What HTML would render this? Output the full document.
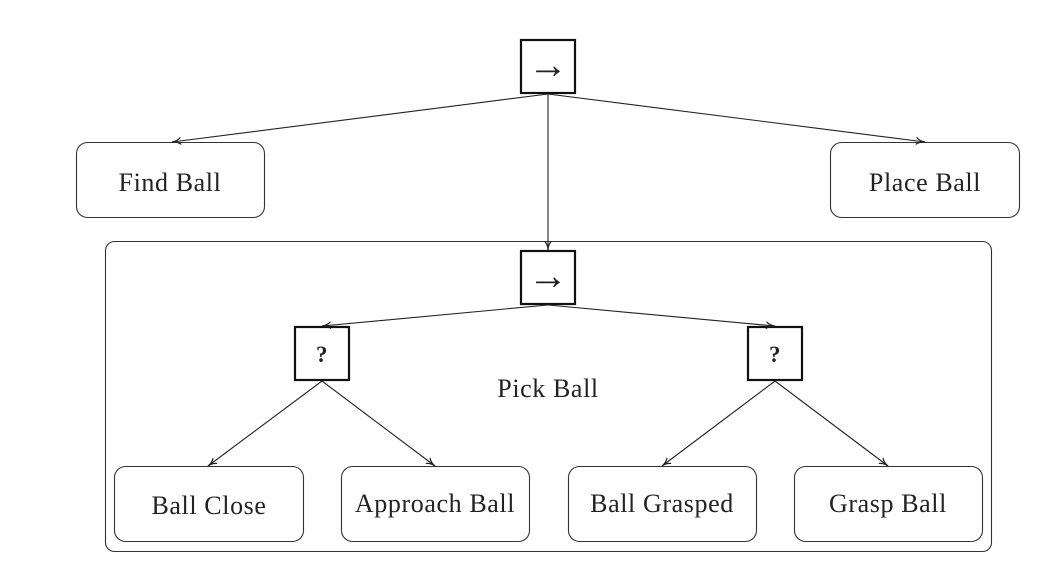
<!DOCTYPE html>
<html><head><style>html,body{margin:0;padding:0;background:#fff;}svg{display:block}</style></head>
<body>
<svg width="1040" height="568" viewBox="0 0 1040 568" xmlns="http://www.w3.org/2000/svg" font-family="'Liberation Serif', serif" fill="none">
<defs>
<marker id="a" markerWidth="10" markerHeight="8" refX="9" refY="4" orient="auto" markerUnits="userSpaceOnUse">
<path d="M0,0.5 Q4,4 9,4 Q4,4 0,7.5" stroke="#222" stroke-width="1.2" fill="none"/>
</marker>
</defs>
<g stroke="#333" stroke-width="1.1">
<rect x="76.5" y="142.5" width="188" height="75" rx="11"/>
<rect x="830.5" y="142.5" width="189" height="75" rx="11"/>
<rect x="105.5" y="241.5" width="886" height="310" rx="9"/>
<rect x="114.5" y="466.5" width="189" height="75" rx="11"/>
<rect x="341.5" y="466.5" width="188" height="75" rx="11"/>
<rect x="568.5" y="466.5" width="188" height="75" rx="11"/>
<rect x="794.5" y="466.5" width="188" height="75" rx="11"/>
</g>
<g stroke="#111" stroke-width="2.2">
<rect x="521" y="40" width="54" height="53"/>
<rect x="521" y="251" width="54" height="53"/>
<rect x="295" y="327" width="54" height="53"/>
<rect x="748" y="327" width="54" height="53"/>
</g>
<g stroke="#222" stroke-width="1.1" marker-end="url(#a)">
<line x1="548" y1="94" x2="172" y2="142"/>
<line x1="548" y1="94" x2="925" y2="142"/>
<line x1="548" y1="94" x2="548" y2="250"/>
<line x1="548" y1="305" x2="322" y2="326"/>
<line x1="548" y1="305" x2="775" y2="326"/>
<line x1="322" y1="381" x2="208" y2="466"/>
<line x1="322" y1="381" x2="435" y2="466"/>
<line x1="775" y1="381" x2="662" y2="466"/>
<line x1="775" y1="381" x2="888" y2="466"/>
</g>
<g fill="#222" font-size="26" text-anchor="middle" letter-spacing="0.6">
<text x="548" y="78" font-size="40" letter-spacing="0">→</text>
<text x="548" y="289" font-size="40" letter-spacing="0">→</text>
<text x="322" y="362" font-weight="bold" font-size="23">?</text>
<text x="775" y="362" font-weight="bold" font-size="23">?</text>
<text x="170" y="191">Find Ball</text>
<text x="925" y="191">Place Ball</text>
<text x="548" y="397">Pick Ball</text>
<text x="209" y="514">Ball Close</text>
<text x="435" y="512">Approach Ball</text>
<text x="662" y="512">Ball Grasped</text>
<text x="888" y="512">Grasp Ball</text>
</g>
</svg>
</body></html>
